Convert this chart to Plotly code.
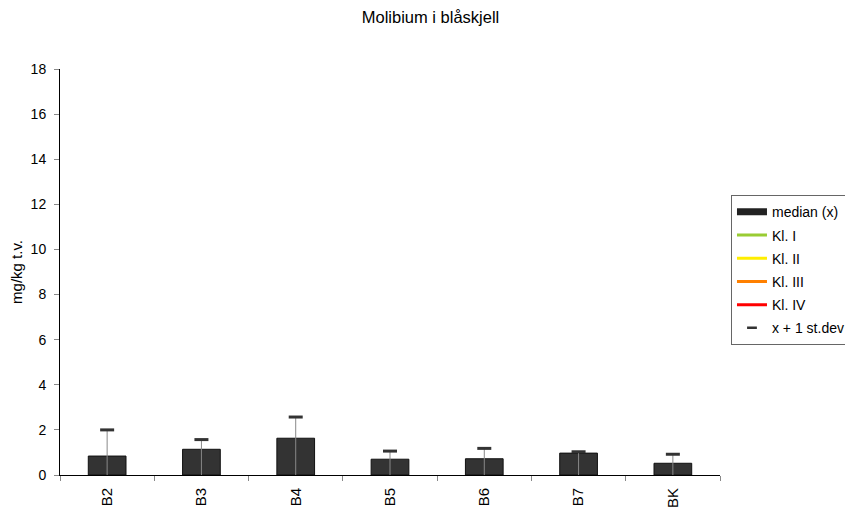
import plotly.graph_objects as go

categories = ["B2", "B3", "B4", "B5", "B6", "B7", "BK"]
median_vals = [0.84, 1.14, 1.63, 0.70, 0.72, 0.97, 0.52]
sd_vals = [2.0, 1.57, 2.57, 1.06, 1.18, 1.03, 0.92]
class_names = ["Kl. I", "Kl. II", "Kl. III", "Kl. IV"]
class_colors = ["#99CC33", "#FFEE00", "#FF8000", "#FF0000"]
y_ticks = [0, 2, 4, 6, 8, 10, 12, 14, 16, 18]

fig = go.Figure()
fig.add_trace(go.Bar(
    x=categories, y=median_vals, name="median (x)", showlegend=False,
    marker=dict(color="#333333", line=dict(color="#111111", width=1)),
))
fig.add_trace(go.Scatter(
    x=categories, y=sd_vals, mode="markers", name="x + 1 st.dev", showlegend=False,
    marker=dict(symbol="line-ew", size=10, line=dict(color="#333333", width=3)),
    error_y=dict(type="data", symmetric=False, array=[0]*len(sd_vals),
                 arrayminus=sd_vals, color="#888888", thickness=1, width=0),
))
# legend entries
fig.add_trace(go.Scatter(x=[None], y=[None], mode="lines", name="median (x)",
                         legendgroup="g0", line=dict(color="#222222", width=7)))
for i, (n, c) in enumerate(zip(class_names, class_colors)):
    fig.add_trace(go.Scatter(x=[None], y=[None], mode="lines", name=n,
                             legendgroup="g%d" % (i + 1), line=dict(color=c, width=3)))
fig.add_trace(go.Scatter(x=[None], y=[None], mode="markers", name="x + 1 st.dev",
                         legendgroup="g9",
                         marker=dict(symbol="line-ew", size=7,
                                     line=dict(color="#333333", width=2.5))))

# page body has an 8px margin; figure is sized/offset to compensate
fig.update_layout(
    width=845, height=502,
    paper_bgcolor="white", plot_bgcolor="white",
    font=dict(family="Liberation Sans, Arial, sans-serif", size=14, color="black"),
    title=dict(text="Molibium i blåskjell", x=0.5, xanchor="center", y=0.982, yanchor="middle",
               font=dict(size=16.5)),
    margin=dict(l=52, r=133, t=61, b=35),
    bargap=0.6,
    showlegend=True,
    legend=dict(xref="container", yref="container", x=0.8556, y=0.627,
                xanchor="left", yanchor="top",
                bordercolor="#666666", borderwidth=1, font=dict(size=14),
                tracegroupgap=2, itemwidth=30),
    xaxis=dict(showline=True, linecolor="black", linewidth=1, tickangle=-90,
               ticks="outside", tickson="boundaries", ticklen=5, tickcolor="#888888",
               showgrid=False, range=[-0.5, 6.5], tickfont=dict(size=15),
               automargin=False, ticklabelstandoff=6),
    yaxis=dict(title=dict(text="mg/kg t.v.", font=dict(size=15), standoff=4),
               range=[0, 18], tickvals=y_ticks, showline=True, linecolor="black",
               linewidth=1, ticks="outside", ticklen=5, tickcolor="#888888",
               showgrid=False, zeroline=False, tickfont=dict(size=14),
               automargin=False, ticklabelstandoff=5),
)
fig.write_html("out.html")
